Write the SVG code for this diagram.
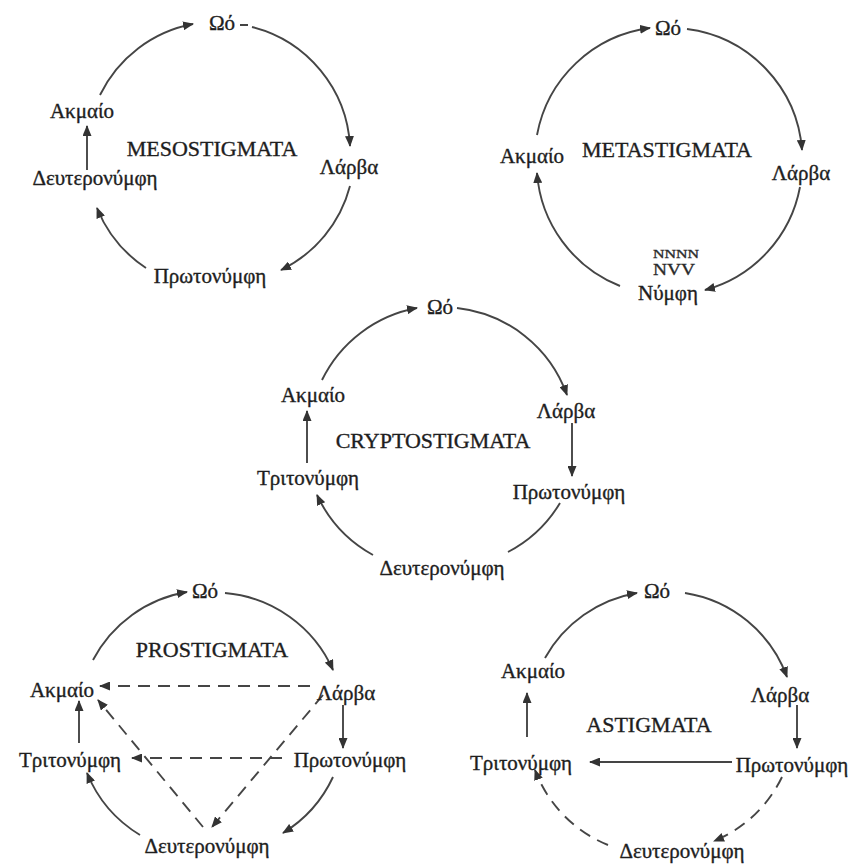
<svg xmlns="http://www.w3.org/2000/svg" width="854" height="866" viewBox="0 0 854 866">
<defs>
<marker id="ah" markerUnits="userSpaceOnUse" markerWidth="11" markerHeight="9" refX="10" refY="4.5" orient="auto">
<path d="M0,0 L11,4.5 L0,9 z" fill="#333"/>
</marker>
</defs>
<style>
.lbl{font-family:"Liberation Serif","DejaVu Serif",serif;font-size:21px;fill:#1e1e1e;stroke:#1e1e1e;stroke-width:0.35;text-anchor:middle}
.ttl{font-family:"Liberation Serif","DejaVu Serif",serif;font-size:22px;fill:#1e1e1e;stroke:#1e1e1e;stroke-width:0.35;text-anchor:middle}
.sm{font-family:"Liberation Serif","DejaVu Serif",serif;fill:#2a2a2a;stroke:#2a2a2a;stroke-width:0.3;text-anchor:middle}
.c{fill:none;stroke:#454545;stroke-width:1.9}
.a{marker-end:url(#ah)}
.d{stroke-dasharray:12 8}
</style>
<rect width="854" height="866" fill="#ffffff"/>

<g id="connectors">
<!-- MESOSTIGMATA -->
<path class="c a" d="M100,95 A130,130 0 0 1 193,24"/>
<path class="c a" d="M252,27 A130,130 0 0 1 350,146"/>
<path class="c a" d="M350,186 A130,130 0 0 1 281,270"/>
<path class="c a" d="M146,268 A130,130 0 0 1 97,208"/>
<path class="c a" d="M87,170 L87,126"/>
<!-- METASTIGMATA -->
<path class="c a" d="M537,135 A132,132 0 0 1 650,28"/>
<path class="c a" d="M687,29 A132,132 0 0 1 802,150"/>
<path class="c a" d="M800,187 A132,132 0 0 1 705,290"/>
<path class="c a" d="M620,286 A132,132 0 0 1 537,173"/>
<!-- CRYPTOSTIGMATA -->
<path class="c a" d="M322,380 A132,132 0 0 1 417,308"/>
<path class="c a" d="M457,308 A132,132 0 0 1 567,395"/>
<path class="c a" d="M572,423 L572,476"/>
<path class="c" d="M560,503 A132,132 0 0 1 508,552"/>
<path class="c a" d="M373,555 A132,132 0 0 1 317,495"/>
<path class="c a" d="M307,463 L307,411"/>
<!-- PROSTIGMATA -->
<path class="c a" d="M93,660 A130,130 0 0 1 187,592"/>
<path class="c a" d="M225,593 A130,130 0 0 1 333,670"/>
<path class="c a d" d="M310,686 L100,686"/>
<path class="c a" d="M343,705 L343,748"/>
<path class="c a d" d="M282,758 L132,758"/>
<path class="c a d" d="M323,695 L212,827"/>
<path class="c a d" d="M203,827 L98,700"/>
<path class="c a" d="M79,743 L79,701"/>
<path class="c a" d="M333,777 A130,130 0 0 1 283,833"/>
<path class="c a" d="M140,835 A130,130 0 0 1 87,773"/>
<!-- ASTIGMATA -->
<path class="c a" d="M545,658 A130,130 0 0 1 637,593"/>
<path class="c a" d="M685,593 A130,130 0 0 1 787,677"/>
<path class="c a" d="M797,705 L797,748"/>
<path class="c a" d="M732,762 L590,762"/>
<path class="c a" d="M527,737 L527,693"/>
<path class="c a d" d="M782,777 A130,130 0 0 1 714,841"/>
<path class="c a d" d="M608,845 A130,130 0 0 1 535,770"/>
</g>

<g id="meso">
<text class="ttl" x="212" y="156">MESOSTIGMATA</text>
<g id="meso-egg"><text class="lbl" x="222" y="30">Ωό</text><path d="M240,25 L248,25" stroke="#444" stroke-width="2"/></g>
<g id="meso-larva"><text class="lbl" x="349" y="174">Λάρβα</text></g>
<g id="meso-proto"><text class="lbl" x="210" y="283">Πρωτονύμφη</text></g>
<g id="meso-deut"><text class="lbl" x="95" y="185">Δευτερονύμφη</text></g>
<g id="meso-adult"><text class="lbl" x="82" y="118">Ακμαίο</text></g>
</g>

<g id="meta">
<text class="ttl" x="667" y="157">METASTIGMATA</text>
<g id="meta-egg"><text class="lbl" x="668" y="35">Ωό</text></g>
<g id="meta-larva"><text class="lbl" x="801" y="180">Λάρβα</text></g>
<g id="meta-nymph">
<text class="sm" x="676" y="258" font-size="12" textLength="46" lengthAdjust="spacingAndGlyphs">NNNN</text>
<text class="sm" x="674" y="275" font-size="16" textLength="42" lengthAdjust="spacingAndGlyphs">NVV</text>
<text class="lbl" x="668" y="300">Νύμφη</text>
</g>
<g id="meta-adult"><text class="lbl" x="532" y="163">Ακμαίο</text></g>
</g>

<g id="crypto">
<text class="ttl" x="433" y="448">CRYPTOSTIGMATA</text>
<g id="crypto-egg"><text class="lbl" x="440" y="314">Ωό</text></g>
<g id="crypto-larva"><text class="lbl" x="566" y="418">Λάρβα</text></g>
<g id="crypto-proto"><text class="lbl" x="569" y="499">Πρωτονύμφη</text></g>
<g id="crypto-deut"><text class="lbl" x="442" y="575">Δευτερονύμφη</text></g>
<g id="crypto-trito"><text class="lbl" x="308" y="485">Τριτονύμφη</text></g>
<g id="crypto-adult"><text class="lbl" x="313" y="402">Ακμαίο</text></g>
</g>

<g id="pro">
<text class="ttl" x="212" y="657">PROSTIGMATA</text>
<g id="pro-egg"><text class="lbl" x="205" y="598">Ωό</text></g>
<g id="pro-larva"><text class="lbl" x="346" y="700">Λάρβα</text></g>
<g id="pro-proto"><text class="lbl" x="350" y="767">Πρωτονύμφη</text></g>
<g id="pro-deut"><text class="lbl" x="207" y="853">Δευτερονύμφη</text></g>
<g id="pro-trito"><text class="lbl" x="70" y="767">Τριτονύμφη</text></g>
<g id="pro-adult"><text class="lbl" x="62" y="697">Ακμαίο</text></g>
</g>

<g id="a">
<text class="ttl" x="649" y="732">ASTIGMATA</text>
<g id="a-egg"><text class="lbl" x="657" y="598">Ωό</text></g>
<g id="a-larva"><text class="lbl" x="780" y="702">Λάρβα</text></g>
<g id="a-proto"><text class="lbl" x="792" y="772">Πρωτονύμφη</text></g>
<g id="a-deut"><text class="lbl" x="682" y="858">Δευτερονύμφη</text></g>
<g id="a-trito"><text class="lbl" x="521" y="770">Τριτονύμφη</text></g>
<g id="a-adult"><text class="lbl" x="533" y="678">Ακμαίο</text></g>
</g>
</svg>
